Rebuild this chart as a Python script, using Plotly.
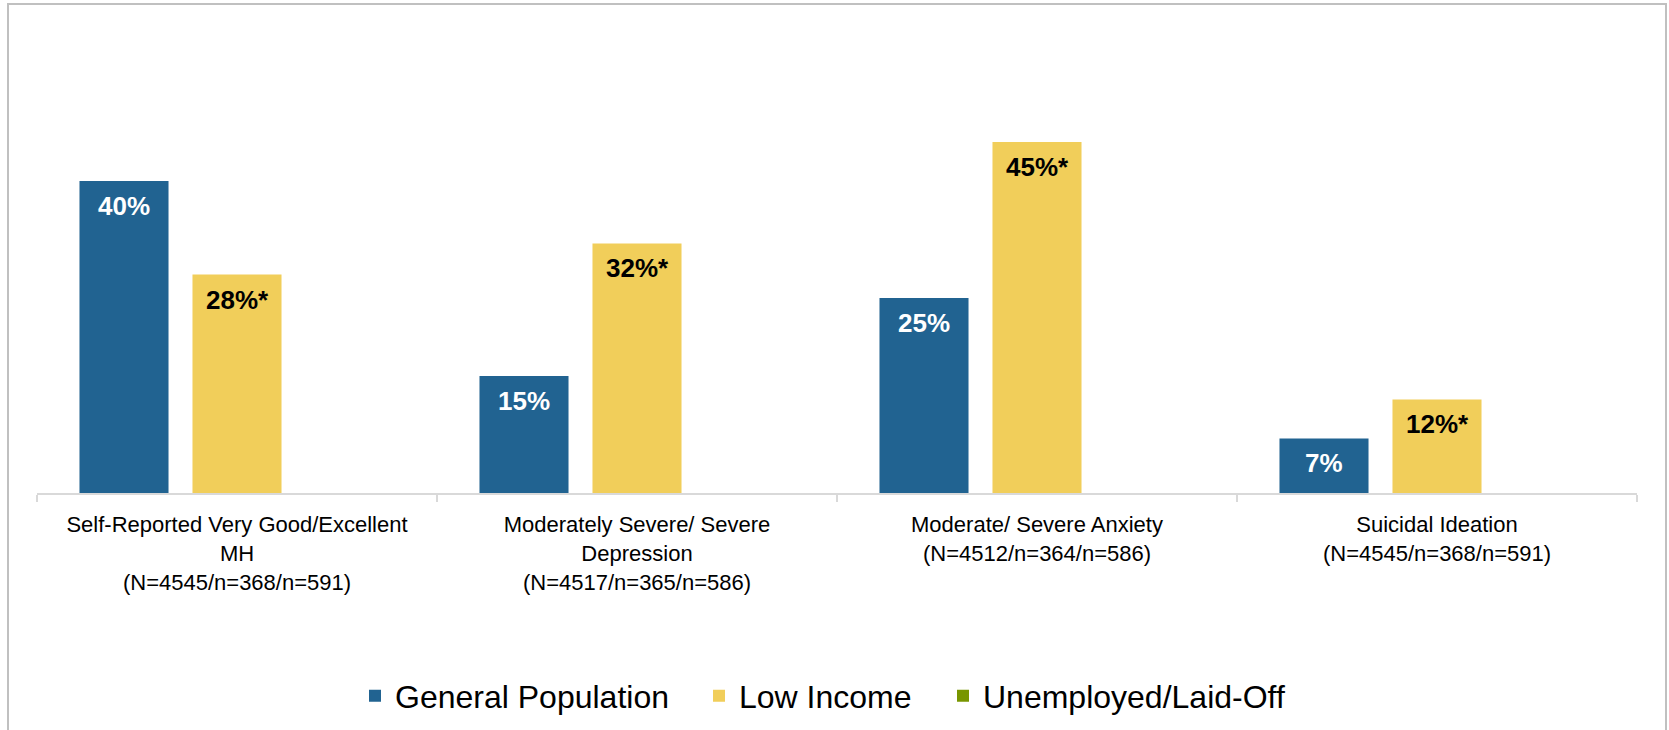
import plotly.graph_objects as go

# Categories (x-axis tick labels)
categories = [
    "Self-Reported Very Good/Excellent<br>MH<br>(N=4545/n=368/n=591)",
    "Moderately Severe/ Severe<br>Depression<br>(N=4517/n=365/n=586)",
    "Moderate/ Severe Anxiety<br>(N=4512/n=364/n=586)",
    "Suicidal Ideation<br>(N=4545/n=368/n=591)",
]

# Series values (%)
general_population = [40, 15, 25, 7]
low_income = [28, 32, 45, 12]
unemployed = [None, None, None, None]

# Significance markers for the low-income labels
low_income_flags = ["*", "*", "*", "*"]

FONT = "Liberation Sans, Arial, sans-serif"
BLUE = "#216391"
YELLOW = "#F1CE5A"
GREEN = "#789600"

W, H = 1669, 730
ML, MR, MT, MB = 37, 32, 25, 237
PW = W - ML - MR
PH = H - MT - MB

BARGAP = 0.1525
BARGROUPGAP = 0.212
N_SERIES = 3


def px_to_paper_x(px):
    return (px - ML) / PW


def px_to_paper_y(py):
    return (H - MB - py) / PH


fig = go.Figure()

fig.add_trace(go.Bar(
    name="General Population",
    x=categories,
    y=general_population,
    marker=dict(color=BLUE, line=dict(width=0)),
    legend="legend",
))

fig.add_trace(go.Bar(
    name="Low Income",
    x=categories,
    y=low_income,
    marker=dict(color=YELLOW, line=dict(width=0)),
    legend="legend2",
))

fig.add_trace(go.Bar(
    name="Unemployed/Laid-Off",
    x=categories,
    y=unemployed,
    marker=dict(color=GREEN, line=dict(width=0)),
    legend="legend3",
))

# Value labels near the top of each bar; horizontal shift follows the
# grouped-bar slot width implied by bargap and the number of series.
slot_px = (PW / len(categories)) * (1 - BARGAP) / N_SERIES
label_sets = [
    (general_population, [f"{v}%" for v in general_population], "white", 0),
    (low_income, [f"{v}%{f}" for v, f in zip(low_income, low_income_flags)], "black", 1),
]
for values, texts, color, series_idx in label_sets:
    shift = (series_idx - (N_SERIES - 1) / 2) * slot_px
    for cat, v, t in zip(categories, values, texts):
        fig.add_annotation(
            x=cat, y=v, xref="x", yref="y",
            text=f"<b>{t}</b>",
            showarrow=False,
            xanchor="center", yanchor="middle",
            xshift=shift, yshift=-25,
            font=dict(family=FONT, size=26, color=color),
        )

# Outer frame around the chart area
fig.add_shape(
    type="rect", xref="paper", yref="paper",
    x0=px_to_paper_x(8), x1=px_to_paper_x(1666),
    y0=px_to_paper_y(735), y1=px_to_paper_y(4),
    line=dict(color="#C0C0C0", width=2),
    fillcolor="rgba(0,0,0,0)",
    layer="below",
)

legend_common = dict(
    orientation="h",
    xanchor="left",
    yanchor="middle",
    y=px_to_paper_y(696),
    font=dict(family=FONT, size=32, color="black"),
    itemwidth=30,
    bgcolor="rgba(0,0,0,0)",
)

fig.update_layout(
    width=W, height=H,
    margin=dict(l=ML, r=MR, t=MT, b=MB, pad=0, autoexpand=False),
    paper_bgcolor="white",
    plot_bgcolor="white",
    barmode="group",
    bargap=BARGAP,
    bargroupgap=BARGROUPGAP,
    font=dict(family=FONT, color="black"),
    showlegend=True,
    legend=dict(x=px_to_paper_x(355), **legend_common),
    legend2=dict(x=px_to_paper_x(699), **legend_common),
    legend3=dict(x=px_to_paper_x(943), **legend_common),
    xaxis=dict(
        showline=True, linecolor="#D9D9D9", linewidth=2,
        ticks="outside", tickson="boundaries", ticklen=7,
        tickcolor="#D9D9D9", tickwidth=2,
        tickfont=dict(family=FONT, size=22, color="black"),
        ticklabelstandoff=11,
        showgrid=False, zeroline=False,
        tickangle=0,
    ),
    yaxis=dict(
        range=[0, 60], visible=False, showgrid=False, zeroline=False,
    ),
)

fig.write_html("out.html")
